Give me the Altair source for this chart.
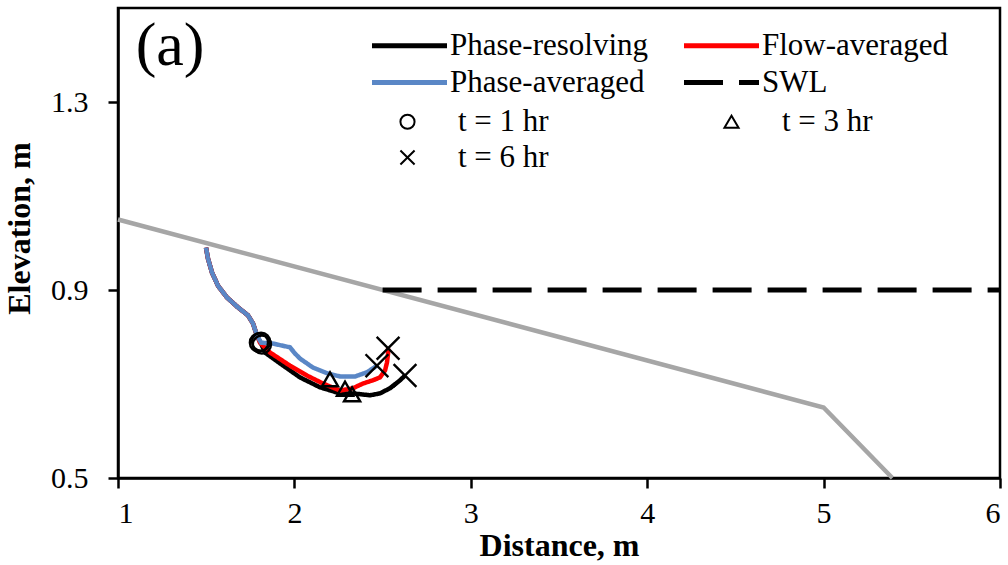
import altair as alt
import pandas as pd

# Beach profile (bed) and still water level
bed_x = [1.0, 5.0, 5.39]
bed_y = [1.05, 0.65, 0.50]
swl_x = [2.5, 6.0]
swl_y = [0.90, 0.90]

# Initial upper part shared by all models
upper_x = [1.499, 1.510, 1.533, 1.567, 1.618, 1.680, 1.737, 1.765, 1.788]
upper_y = [0.990, 0.967, 0.937, 0.909, 0.884, 0.863, 0.846, 0.829, 0.803]

# Lower trajectories per model
pr_x = [1.816, 1.833, 1.918, 2.032, 2.145, 2.259, 2.332, 2.429, 2.485, 2.542, 2.599, 2.627]
pr_y = [0.782, 0.767, 0.744, 0.714, 0.693, 0.680, 0.680, 0.676, 0.680, 0.691, 0.708, 0.718]
fa_x = [1.805, 1.862, 1.975, 2.071, 2.162, 2.259, 2.332, 2.389, 2.446, 2.485, 2.514, 2.525, 2.531, 2.531]
fa_y = [0.788, 0.767, 0.739, 0.718, 0.701, 0.686, 0.691, 0.701, 0.708, 0.714, 0.729, 0.746, 0.765, 0.776]
pa_x = [1.811, 1.879, 1.975, 2.003, 2.032, 2.105, 2.185, 2.259, 2.344, 2.412, 2.468]
pa_y = [0.788, 0.786, 0.778, 0.765, 0.754, 0.735, 0.723, 0.716, 0.716, 0.725, 0.739]

# Time markers: (series, time, x, y)
mark_series = ["Phase-resolving", "Flow-averaged", "Phase-averaged"] * 3
mark_time = ["t = 1 hr"] * 3 + ["t = 3 hr"] * 3 + ["t = 6 hr"] * 3
mark_x = [1.799, 1.816, 1.811, 2.327, 2.287, 2.202, 2.627, 2.531, 2.468]
mark_y = [0.788, 0.784, 0.790, 0.678, 0.690, 0.710, 0.718, 0.776, 0.739]

series_names = ["Phase-resolving", "Flow-averaged", "Phase-averaged", "SWL"]
series_colors = ["#000000", "#FF0000", "#5A87C6", "#000000"]
series_dash = [[1, 0], [1, 0], [1, 0], [39, 16]]
time_names = ["t = 1 hr", "t = 3 hr", "t = 6 hr"]
time_shapes = ["circle", "triangle-up", "M-1,-1L1,1M-1,1L1,-1"]
time_sizes = [330, 260, 520]

FONT = "Liberation Serif"


def series_frame(name, xs, ys):
    return pd.DataFrame({"series": name, "x": xs, "y": ys, "i": range(len(xs))})


curves = {
    "Phase-resolving": series_frame("Phase-resolving", upper_x + pr_x, upper_y + pr_y),
    "Flow-averaged": series_frame("Flow-averaged", upper_x + fa_x, upper_y + fa_y),
    "Phase-averaged": series_frame("Phase-averaged", upper_x + pa_x, upper_y + pa_y),
    "SWL": series_frame("SWL", swl_x, swl_y),
}
bed = pd.DataFrame({"x": bed_x, "y": bed_y})
marks = pd.DataFrame({"series": mark_series, "time": mark_time, "x": mark_x, "y": mark_y})

xscale = alt.Scale(domain=[1, 6], nice=False, zero=False)
yscale = alt.Scale(domain=[0.5, 1.5], nice=False, zero=False)

xenc = alt.X("x:Q", scale=xscale, title="Distance, m",
             axis=alt.Axis(values=[1, 2, 3, 4, 5, 6], format="d", labelPadding=10))
yenc = alt.Y("y:Q", scale=yscale, title="Elevation, m",
             axis=alt.Axis(values=[0.5, 0.9, 1.3], format=".1f", labelPadding=20,
                           titleY=220))

# Legend line samples: a long horizontal stroke drawn around a small symbol box
line_legend = alt.Legend(
    orient="none", legendX=276, legendY=22, columns=2, direction="horizontal",
    columnPadding=25, rowPadding=5, symbolType="M-3,0L3,0", symbolSize=625,
    symbolStrokeWidth=5, labelFontSize=31, labelFont=FONT, labelOffset=25,
    labelLimit=400, title=None, padding=0,
)
color_enc = alt.Color("series:N", legend=line_legend,
                      scale=alt.Scale(domain=series_names, range=series_colors))
dash_enc = alt.StrokeDash("series:N", legend=line_legend,
                          scale=alt.Scale(domain=series_names, range=series_dash))

shape_legend = alt.Legend(
    orient="none", legendX=274, legendY=98, columns=2, direction="horizontal",
    columnPadding=167, rowPadding=4, symbolSize=200, symbolStrokeWidth=2,
    symbolStrokeColor="black", symbolFillColor="transparent", labelFontSize=31,
    labelFont=FONT, labelOffset=35, labelLimit=400, title=None, padding=0,
)
shape_enc = alt.Shape("time:N", scale=alt.Scale(domain=time_names, range=time_shapes),
                      legend=shape_legend)

bed_line = alt.Chart(bed).mark_line(color="#A6A6A6", strokeWidth=4.5).encode(x=xenc, y=yenc)

layers = [bed_line]
for name in ["SWL", "Phase-resolving", "Flow-averaged", "Phase-averaged"]:
    layers.append(
        alt.Chart(curves[name]).mark_line(strokeWidth=5 if name == "SWL" else 4.5,
                                          strokeCap="butt").encode(
            x=xenc, y=yenc, color=color_enc, strokeDash=dash_enc, order="i:Q"
        )
    )

for tname, tsize in zip(time_names, time_sizes):
    layers.append(
        alt.Chart(marks[marks["time"] == tname]).mark_point(
            filled=False, color="black", strokeWidth=2.4, opacity=1, size=tsize
        ).encode(x=xenc, y=yenc, shape=shape_enc)
    )

panel = alt.Chart(pd.DataFrame({"x": [1.295], "y": [1.42], "t": ["(a)"]})).mark_text(
    font=FONT, fontSize=62, align="center", baseline="middle", color="black"
).encode(x=xenc, y=yenc, text="t:N")
layers.append(panel)

chart = alt.layer(*layers).properties(
    width=882, height=470,
    autosize=alt.AutoSizeParams(type="none"),
    padding={"left": 118, "top": 8, "right": 8, "bottom": 87},
    background="white",
).configure_view(
    stroke="black", strokeWidth=2.5
).configure_axis(
    grid=False, domainColor="black", domainWidth=2.5, tickColor="black", tickWidth=2.5,
    tickSize=10, labelFont=FONT, labelFontSize=30, labelColor="black",
    titleFont=FONT, titleFontSize=32, titleFontWeight="bold", titleColor="black",
).configure_axisX(
    titlePadding=2
).configure_axisY(
    titlePadding=14
)

chart.save("out.html", embed_options={"renderer": "svg", "actions": False})
